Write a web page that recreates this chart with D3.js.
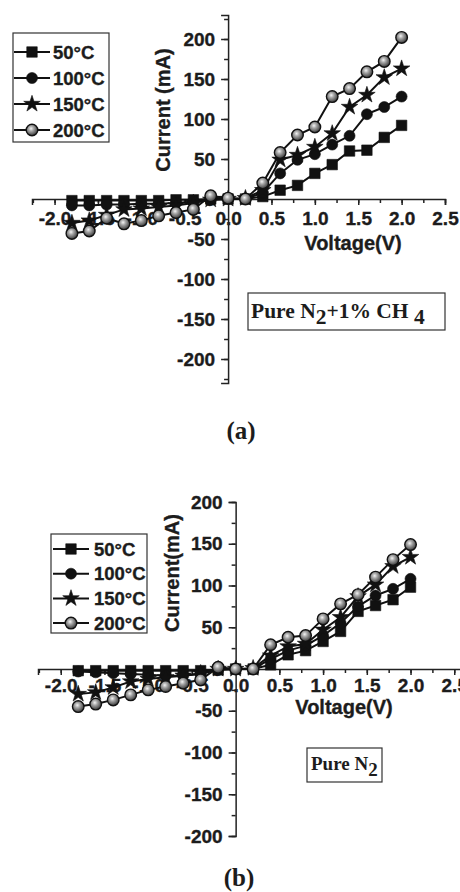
<!DOCTYPE html>
<html>
<head>
<meta charset="utf-8">
<script src="https://d3js.org/d3.v7.min.js"></script>
<style>
  body { margin: 0; background: #fff; }
  svg { display: block; }
  .lbl { font-family: "Liberation Sans", Arial, sans-serif; font-weight: bold; fill: #1c1c1c; stroke: #1c1c1c; stroke-width: 0.35px; }
  .note { font-family: "Liberation Serif", "Times New Roman", serif; font-weight: bold; fill: #1c1c1c; }
</style>
</head>
<body>
<div id="chart"></div>
<script>

// data
var voltage = [-1.8, -1.6, -1.4, -1.2, -1.0, -0.8, -0.6, -0.4, -0.2, 0, 0.2, 0.4, 0.6, 0.8, 1.0, 1.2, 1.4, 1.6, 1.8, 2.0];

// (a) Pure N2 + 1% CH4
var a50  = [-2, -2, -2, -2, -2, -2, -1, -1, 0, 0, 0, 3, 11, 17, 32, 43, 60, 61, 77, 92];
var a100 = [-8, -8, -7, -7, -6, -6, -5, -3, -1, 0, 0, 8, 32, 49, 56, 68, 79, 106, 115, 128];
var a150 = [-30, -27, -20, -13, -12, -10, -8, -5, -1, 0, 1, 11, 49, 55, 65, 82, 115, 130, 152, 163];
var a200 = [-43, -40, -24, -31, -27, -21, -17, -13, 4, 1, 0, 20, 58, 80, 90, 128, 138, 159, 172, 202];

// (b) Pure N2
var b50  = [-2, -2, -2, -2, -2, -2, -2, -2, -1, 0, 0, 5, 17, 22, 33, 45, 69, 76, 83, 98];
var b100 = [-3, -4, -5, -6, -7, -8, -8, -6, -1, 0, 0, 12, 22, 28, 40, 55, 75, 88, 96, 108];
var b150 = [-30, -28, -22, -15, -12, -10, -8, -5, 0, 0, 1, 16, 27, 30, 47, 62, 87, 101, 123, 134];
var b200 = [-45, -42, -37, -31, -25, -21, -17, -13, 2, 0, 0, 29, 38, 40, 60, 78, 89, 110, 131, 149];

var seriesNames = ["50°C", "100°C", "150°C", "200°C"];
var xTickVals = [-2.0, -1.5, -1.0, -0.5, 0, 0.5, 1.0, 1.5, 2.0, 2.5];
var xTickLabels = ["-2.0", "-1.5", "-1.0", "-0.5", "0.0", "0.5", "1.0", "1.5", "2.0", "2.5"];
var yTickVals = [-200, -150, -100, -50, 0, 50, 100, 150, 200];
var yTickLabels = ["-200", "-150", "-100", "-50", "0", "50", "100", "150", "200"];

var W = 460, H = 892;

var svg = d3.select("#chart").append("svg")
  .attr("width", W)
  .attr("height", H);

// shaded ball for the 200°C marker
var grad = svg.append("defs").append("radialGradient")
  .attr("id", "ball")
  .attr("cx", "42%").attr("cy", "38%").attr("r", "62%");
grad.append("stop").attr("offset", "0%").attr("stop-color", "#f4f4f4");
grad.append("stop").attr("offset", "35%").attr("stop-color", "#a8a8a8");
grad.append("stop").attr("offset", "100%").attr("stop-color", "#3a3a3a");

var shapes = [
  { type: d3.symbolSquare, size: 110, fill: "#111" },
  { type: d3.symbolCircle, size: 95, fill: "#111" },
  { type: d3.symbolStar, size: 85, fill: "#111" },
  { type: d3.symbolCircle, size: 105, fill: "url(#ball)" }
];

function marker(sel, k) {
  sel.attr("d", d3.symbol().type(shapes[k].type).size(shapes[k].size)())
    .attr("fill", shapes[k].fill)
    .attr("stroke", "#111")
    .attr("stroke-width", k == 3 ? 1.4 : 0.6);
}

function drawPanel(p) {
  var x = d3.scaleLinear().domain(p.xDomain).range(p.xRange);
  var y = d3.scaleLinear().domain(p.yDomain).range(p.yRange);
  var g = svg.append("g");

  // x axis through y = 0
  var xMinor = d3.range(-2.25, p.xDomain[1] + 0.001, 0.25);
  g.append("g")
    .attr("transform", "translate(0," + y(0) + ")")
    .call(d3.axisBottom(x).tickValues(xMinor).tickSize(4).tickSizeOuter(0).tickFormat(""))
    .call(function(a) { a.select(".domain").remove(); });
  var xa = g.append("g")
    .attr("transform", "translate(0," + y(0) + ")")
    .call(d3.axisBottom(x).tickValues(xTickVals).tickSizeOuter(0).tickSize(6)
      .tickFormat(function(d, i) { return xTickLabels[i]; }));
  xa.selectAll("text").attr("class", "lbl").attr("y", p.xLabelDy).attr("dy", 0)
    .style("font-size", "19px");

  // y axis through x = 0
  var yMinor = d3.range(-225, 226, 25).filter(function(v) { return v >= p.yDomain[0] && v <= p.yDomain[1]; });
  g.append("g")
    .attr("transform", "translate(" + x(0) + ",0)")
    .call(d3.axisLeft(y).tickValues(yMinor).tickSize(4).tickSizeOuter(0).tickFormat(""))
    .call(function(a) { a.select(".domain").remove(); });
  var ya = g.append("g")
    .attr("transform", "translate(" + x(0) + ",0)")
    .call(d3.axisLeft(y).tickValues(yTickVals).tickSizeOuter(0).tickSize(7).tickPadding(6)
      .tickFormat(function(d, i) { return yTickLabels[i]; }));
  ya.selectAll("text").attr("class", "lbl").style("font-size", "19px");

  g.selectAll(".domain, .tick line").attr("stroke", "#222").attr("stroke-width", 1.5);
  g.selectAll("text").attr("fill", "#1c1c1c").attr("font-family", null);

  // axis titles
  g.append("text").attr("class", "lbl")
    .attr("x", p.xTitle[0]).attr("y", p.xTitle[1])
    .attr("text-anchor", "middle").style("font-size", "20px")
    .text("Voltage(V)");
  g.append("text").attr("class", "lbl")
    .attr("transform", "translate(" + p.yTitle[0] + "," + p.yTitle[1] + ") rotate(-90)")
    .attr("text-anchor", "middle").style("font-size", "20px")
    .text(p.yTitleText);

  // series
  var line = d3.line().x(function(d) { return x(d[0]); }).y(function(d) { return y(d[1]); });
  p.series.forEach(function(vals, k) {
    var pts = voltage.map(function(v, i) { return [v, vals[i]]; });
    g.append("path").datum(pts)
      .attr("d", line).attr("fill", "none")
      .attr("stroke", "#111").attr("stroke-width", 2);
  });
  p.series.forEach(function(vals, k) {
    var pts = voltage.map(function(v, i) { return [v, vals[i]]; });
    g.append("g").selectAll("path").data(pts).enter().append("path")
      .attr("transform", function(d) { return "translate(" + x(d[0]) + "," + y(d[1]) + ")"; })
      .call(marker, k);
  });

  // legend
  var L = p.legend;
  g.append("rect")
    .attr("x", L.x).attr("y", L.y).attr("width", L.w).attr("height", L.h)
    .attr("fill", "#fff").attr("stroke", "#333").attr("stroke-width", 1.2);
  seriesNames.forEach(function(name, k) {
    var ry = L.y0 + k * L.step;
    g.append("line")
      .attr("x1", L.lx0).attr("x2", L.lx1).attr("y1", ry).attr("y2", ry)
      .attr("stroke", "#111").attr("stroke-width", 2);
    g.append("path")
      .attr("transform", "translate(" + (L.lx0 + L.lx1) / 2 + "," + ry + ")")
      .call(marker, k);
    g.append("text").attr("class", "lbl")
      .attr("x", L.tx).attr("y", ry).attr("dy", "0.36em")
      .style("font-size", "18.5px")
      .text(name);
  });

  // composition note
  var N = p.note;
  g.append("rect")
    .attr("x", N.x).attr("y", N.y).attr("width", N.w).attr("height", N.h)
    .attr("fill", "#fff").attr("stroke", "#333").attr("stroke-width", 1.2);
  var t = g.append("text").attr("class", "note")
    .attr("x", N.tx).attr("y", N.ty).style("font-size", N.size + "px");
  N.parts.forEach(function(part) {
    t.append("tspan")
      .attr("dy", part.sub ? 6 : (part.after ? -6 : 0))
      .text(part.s);
  });

  // panel tag
  g.append("text").attr("class", "note")
    .attr("x", p.tag[0]).attr("y", p.tag[1])
    .attr("text-anchor", "middle").style("font-size", "25px")
    .text(p.tagText);
}

drawPanel({
  xDomain: [-2.26, 2.5], xRange: [32, 445],
  yDomain: [-230, 230], yRange: [383, 15],
  xLabelDy: 26,
  series: [a50, a100, a150, a200],
  xTitle: [353, 250],
  yTitle: [170, 110], yTitleText: "Current (mA)",
  legend: { x: 13, y: 33, w: 96, h: 109, y0: 52, step: 26, lx0: 14, lx1: 50, tx: 53 },
  note: { x: 248, y: 293, w: 197, h: 37, tx: 251, ty: 318, size: 21.5,
    parts: [{ s: "Pure N" }, { s: "2", sub: true }, { s: "+1% CH ", after: true }, { s: "4", sub: true }] },
  tag: [241, 439], tagText: "(a)"
});

drawPanel({
  xDomain: [-2.26, 2.6], xRange: [38, 463],
  yDomain: [-200, 200], yRange: [836, 502],
  xLabelDy: 23,
  series: [b50, b100, b150, b200],
  xTitle: [344, 714],
  yTitle: [179, 573], yTitleText: "Current(mA)",
  legend: { x: 51, y: 534, w: 96, h: 99, y0: 549, step: 24.7, lx0: 53, lx1: 89, tx: 94 },
  note: { x: 307, y: 748, w: 75, h: 34, tx: 311, ty: 770, size: 19,
    parts: [{ s: "Pure N" }, { s: "2", sub: true }] },
  tag: [239, 886], tagText: "(b)"
});

</script>
</body>
</html>
